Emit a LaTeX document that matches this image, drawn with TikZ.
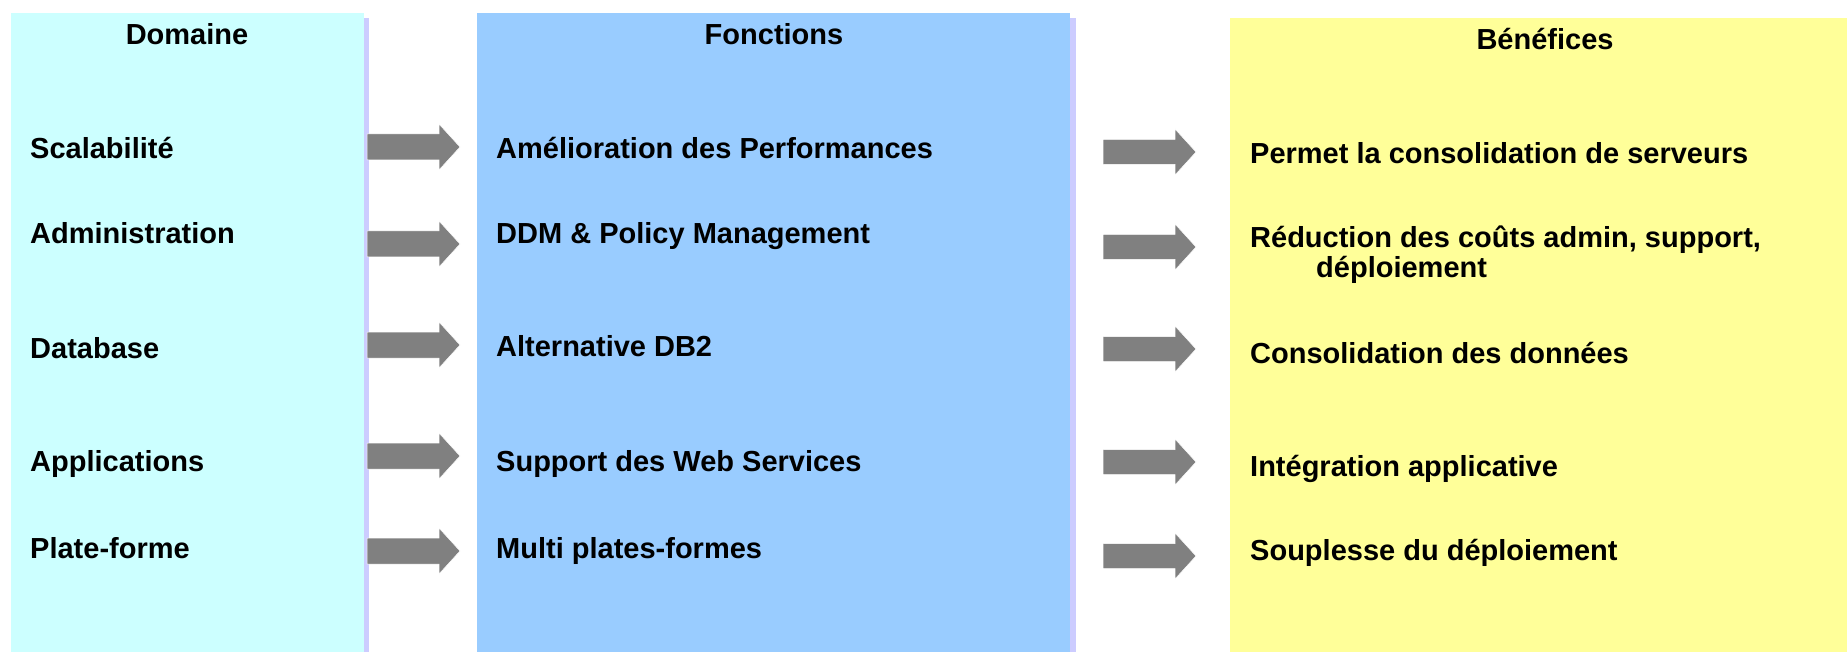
\documentclass[tikz,border=0pt]{standalone}
\usepackage{fontspec}
\setmainfont{Liberation Sans}
\definecolor{domfill}{HTML}{CCFFFF}
\definecolor{fonfill}{HTML}{99CCFF}
\definecolor{benfill}{HTML}{FFFF99}
\definecolor{shadowc}{HTML}{CCCCFF}
\definecolor{arrowc}{HTML}{808080}
\tikzset{
  panel/.style={rectangle, inner sep=0pt, outer sep=0pt, draw=none, anchor=north west},
  lbl/.style={anchor=base west, inner sep=0pt, font=\fontsize{29}{31}\selectfont\bfseries},
  hdr/.style={anchor=base, inner sep=0pt, font=\fontsize{29}{31}\selectfont\bfseries},
  pics/larrow/.style={code={
    \filldraw[fill=arrowc, draw=white, line width=0.5pt]
      (0,-13) -- (72,-13) -- (72,-23) -- (93,0) -- (72,23) -- (72,13) -- (0,13) -- cycle;}},
  pics/rarrow/.style={code={
    \filldraw[fill=arrowc, draw=white, line width=0.5pt]
      (0,-12.5) -- (72,-12.5) -- (72,-23) -- (93,0) -- (72,23) -- (72,12.5) -- (0,12.5) -- cycle;}}
}
\begin{document}
\begin{tikzpicture}[x=1pt,y=-1pt]
\useasboundingbox (0,0) rectangle (1847,652);
\fill[white] (0,0) rectangle (1847,652);
% shadows
\fill[shadowc] (364,18) rectangle (369,652);
\fill[shadowc] (1070,18) rectangle (1076,652);
% panels
\node[panel, fill=domfill, minimum width=353pt, minimum height=639pt] (dom) at (11,13) {};
\node[panel, fill=fonfill, minimum width=593pt, minimum height=639pt] (fon) at (477,13) {};
\node[panel, fill=benfill, minimum width=617pt, minimum height=634pt] (ben) at (1230,18) {};
% headers
\node[hdr] (hdom) at (187,45) {Domaine};
\node[hdr] (hfon) at (774,45) {Fonctions};
\node[hdr] (hben) at (1545,50) {Bénéfices};
% domain labels
\node[lbl] (d1) at (30,159) {Scalabilité};
\node[lbl] (d2) at (30,244) {Administration};
\node[lbl] (d3) at (30,358) {Database};
\node[lbl] (d4) at (30,471) {Applications};
\node[lbl] (d5) at (30,558) {Plate-forme};
% function labels
\node[lbl] (f1) at (496,159) {Amélioration des Performances};
\node[lbl] (f2) at (496,244) {DDM \& Policy Management};
\node[lbl] (f3) at (496,356) {Alternative DB2};
\node[lbl] (f4) at (496,471) {Support des Web Services};
\node[lbl] (f5) at (496,558) {Multi plates-formes};
% benefit labels
\node[lbl] (b1) at (1250,164) {Permet la consolidation de serveurs};
\node[lbl] (b2) at (1250,248) {Réduction des coûts admin, support,};
\node[lbl] (b2b) at (1316,278) {déploiement};
\node[lbl] (b3) at (1250,363) {Consolidation des données};
\node[lbl] (b4) at (1250,476) {Intégration applicative};
\node[lbl] (b5) at (1250,560) {Souplesse du déploiement};
% arrows domain -> functions
\pic at (367,147) {larrow};
\pic at (367,244) {larrow};
\pic at (367,345) {larrow};
\pic at (367,456) {larrow};
\pic at (367,551) {larrow};
% arrows functions -> benefits
\pic at (1103,152) {rarrow};
\pic at (1103,247) {rarrow};
\pic at (1103,349) {rarrow};
\pic at (1103,462) {rarrow};
\pic at (1103,556) {rarrow};
\end{tikzpicture}
\end{document}
